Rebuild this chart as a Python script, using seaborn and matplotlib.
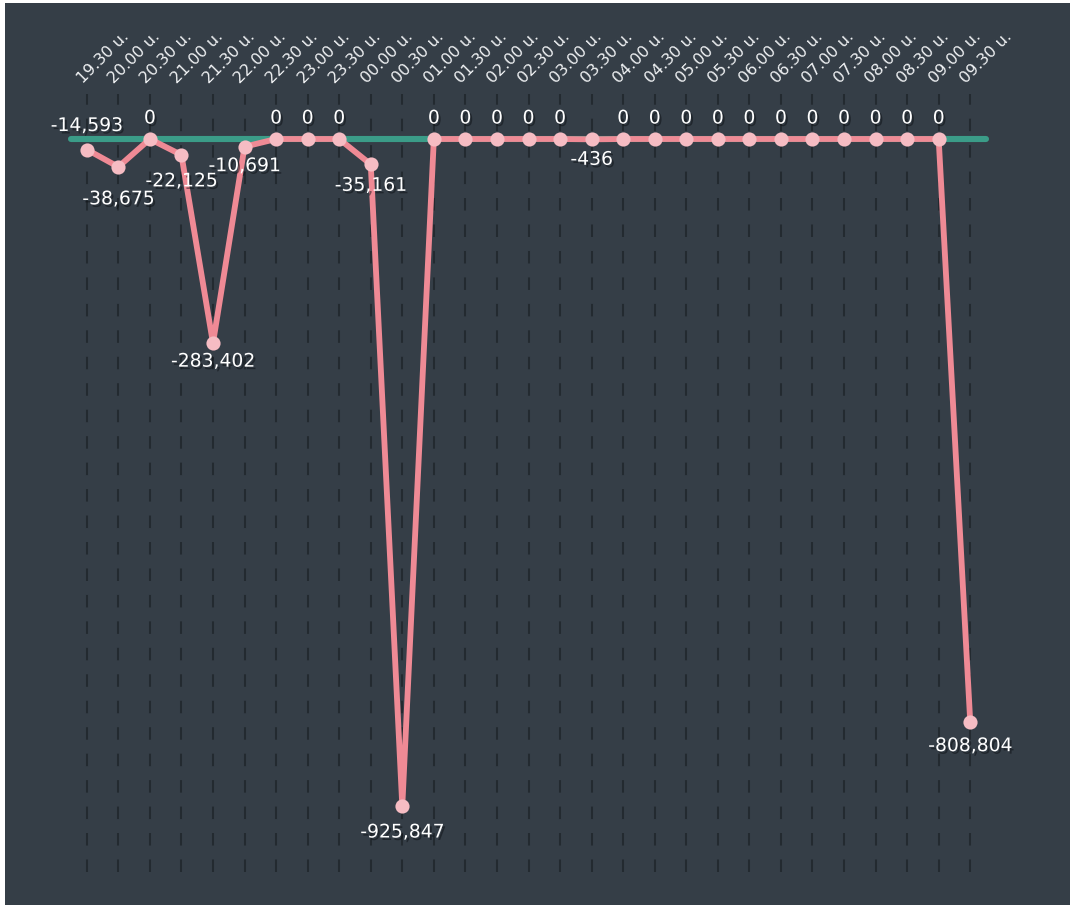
import numpy as np
import pandas as pd
import matplotlib
matplotlib.use("Agg")
import matplotlib.pyplot as plt
import matplotlib.patheffects as pe
from matplotlib.patches import Rectangle
from matplotlib.transforms import ScaledTranslation
import seaborn as sns

# ---------------- data ----------------
categories = ["19.30 u.", "20.00 u.", "20.30 u.", "21.00 u.", "21.30 u.", "22.00 u.",
              "22.30 u.", "23.00 u.", "23.30 u.", "00.00 u.", "00.30 u.", "01.00 u.",
              "01.30 u.", "02.00 u.", "02.30 u.", "03.00 u.", "03.30 u.", "04.00 u.",
              "04.30 u.", "05.00 u.", "05.30 u.", "06.00 u.", "06.30 u.", "07.00 u.",
              "07.30 u.", "08.00 u.", "08.30 u.", "09.00 u.", "09.30 u."]
values = [-14593, -38675, 0, -22125, -283402, -10691,
          0, 0, 0, -35161, -925847, 0,
          0, 0, 0, 0, -436, 0,
          0, 0, 0, 0, 0, 0,
          0, 0, 0, 0, -808804]
baseline_value = 0

# label vertical offsets in px (negative = above point)
label_dy = [-24, 32, -21, 26, 18, 19,
            -21, -21, -21, 21, 26, -21,
            -21, -21, -21, -21, 20, -21,
            -21, -21, -21, -21, -21, -21,
            -21, -21, -21, -21, 24]

# ---------------- style ----------------
BG = "#353e47"
PINK = "#ef8a95"
PINK_MK = "#f6bcc3"
GREEN = "#3b9c88"
GRID = "#232a30"

W, H = 1070, 906
fig = plt.figure(figsize=(W / 100, H / 100), dpi=100)
fig.patch.set_facecolor("white")
fig.add_artist(Rectangle((5 / W, 1 / H), (W - 5) / W, (H - 4) / H,
                         transform=fig.transFigure, facecolor=BG,
                         edgecolor="none", zorder=-10))

left_px, right_px, top_px, bot_px = 71, 986, 94, 872
ax = fig.add_axes([left_px / W, (H - bot_px) / H,
                   (right_px - left_px) / W, (bot_px - top_px) / H])
ax.set_facecolor("none")

df = pd.DataFrame({"pos": np.arange(len(categories)), "value": values,
                   "label": categories})

# baseline (green) behind
ax.axhline(baseline_value, color=GREEN, linewidth=4.4,
           solid_capstyle="round", zorder=2, clip_on=False)

sns.lineplot(data=df, x="pos", y="value", ax=ax, color=PINK, linewidth=4.2,
             marker="o", markersize=10.2, markerfacecolor=PINK_MK,
             markeredgewidth=0, zorder=3, legend=False, sort=False)
for ln in ax.lines:
    ln.set_clip_on(False)

# scale: 0 at y=139px, min at 806px
zero_px, min_px = 139, 806
k = -min(values) / (min_px - zero_px)
ax.set_ylim(-(bot_px - zero_px) * k, (zero_px - top_px) * k)
ax.set_xlim(-0.5, len(categories) - 0.5)

# grid / axes
ax.set_yticks([])
ax.set_xticks(df["pos"])
ax.set_xticklabels(df["label"], rotation=45, ha="left", va="bottom",
                   rotation_mode="anchor", color="#f0f2f4", fontsize=11.5)
ax.tick_params(axis="x", top=True, bottom=False, labeltop=True,
               labelbottom=False, length=0, pad=6)
for lab in ax.get_xticklabels():
    lab.set_transform(lab.get_transform() +
                      ScaledTranslation(-2 / 100, 0, fig.dpi_scale_trans))
ax.xaxis.grid(True, color=GRID, linewidth=1.5, linestyle=(0, (6, 6.7)))
ax.yaxis.grid(False)
ax.set_axisbelow(True)
for s in ax.spines.values():
    s.set_visible(False)
ax.set_xlabel("")
ax.set_ylabel("")

shadow = [pe.SimplePatchShadow(offset=(1.5, -1.8), shadow_rgbFace="#0c1014",
                               alpha=0.5), pe.Normal()]
for p, v, dy in zip(df["pos"], df["value"], label_dy):
    ax.annotate(f"{v:,}", (p, v), xytext=(0, -dy * 0.72),
                textcoords="offset points", ha="center", va="center",
                fontsize=13.5, color="white", path_effects=shadow,
                annotation_clip=False, zorder=5)

fig.savefig("out.png", dpi=100, facecolor=fig.get_facecolor())
